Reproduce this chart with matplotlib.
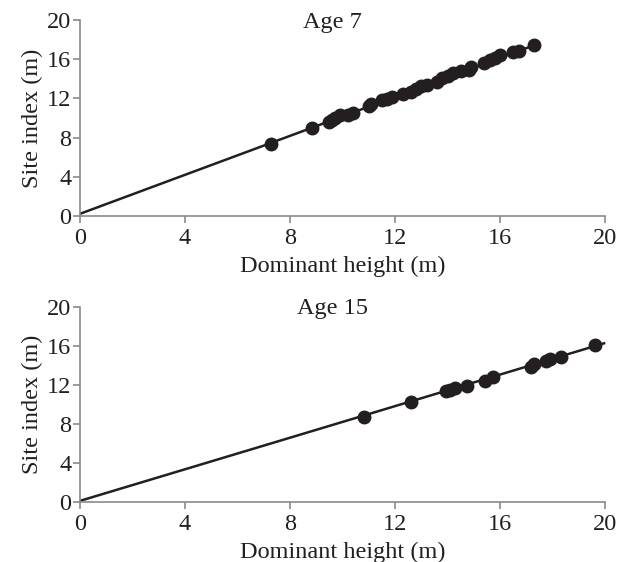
import matplotlib
matplotlib.use("Agg")
import matplotlib.pyplot as plt

# Age 7 data
x7 = [7.27, 8.83, 9.47, 9.6, 9.7, 9.9, 10.2, 10.4, 11.0, 11.1, 11.5, 11.7, 11.9,
      12.3, 12.6, 12.8, 13.0, 13.2, 13.6, 13.8, 14.0, 14.2, 14.5, 14.8, 14.9,
      15.4, 15.6, 15.8, 16.0, 16.5, 16.7, 17.3]
y7 = [7.35, 9.0, 9.6, 9.8, 10.0, 10.3, 10.3, 10.5, 11.2, 11.4, 11.8, 11.9, 12.1,
      12.5, 12.7, 13.0, 13.3, 13.4, 13.7, 14.1, 14.3, 14.6, 14.8, 14.9, 15.2,
      15.6, 15.9, 16.1, 16.4, 16.8, 16.9, 17.5]
line7_x = [0, 17.4]
line7_y = [0.2, 17.55]

# Age 15 data
x15 = [10.83, 12.62, 13.94, 14.1, 14.27, 14.74, 15.41, 15.73, 17.17, 17.3,
       17.76, 17.88, 18.3, 19.62]
y15 = [8.75, 10.2, 11.4, 11.45, 11.65, 11.9, 12.4, 12.85, 13.8, 14.1,
       14.4, 14.65, 14.85, 16.05]
line15_x = [0, 20]
line15_y = [0.1, 16.3]

ticks = [0, 4, 8, 12, 16, 20]

plt.rcParams['font.family'] = ['Liberation Serif', 'DejaVu Serif']
fig = plt.figure(figsize=(6.24, 5.62), dpi=100)
ax1 = fig.add_axes([0.128, 0.616, 0.842, 0.348])
ax2 = fig.add_axes([0.128, 0.107, 0.842, 0.347])

ink = '#231f20'
spine_c = '#8a8a8a'
fs = 17.5

for ax, xs, ys, lx, ly, title in [(ax1, x7, y7, line7_x, line7_y, 'Age 7'),
                                   (ax2, x15, y15, line15_x, line15_y, 'Age 15')]:
    ax.plot(lx, ly, color=ink, lw=1.8, solid_capstyle='butt', zorder=2, clip_on=False)
    ax.plot(xs, ys, 'o', color=ink, ms=9, zorder=3, clip_on=False)
    ax.set_xlim(0, 20)
    ax.set_ylim(0, 20)
    ax.set_xticks(ticks)
    ax.set_yticks(ticks)
    for s in ['top', 'right']:
        ax.spines[s].set_visible(False)
    for s in ['left', 'bottom']:
        ax.spines[s].set_color(spine_c)
        ax.spines[s].set_linewidth(1.2)
    ax.tick_params(axis='x', direction='out', length=5, width=1.2, color=spine_c,
                   labelsize=fs, labelcolor=ink, pad=4)
    ax.tick_params(axis='y', direction='out', length=5, width=1.2, color=spine_c,
                   labelsize=fs, labelcolor=ink, pad=1)
    ax.set_xlabel('Dominant height (m)', fontsize=fs, color=ink, labelpad=4.5)
    ax.set_ylabel('Site index (m)', fontsize=fs, color=ink, labelpad=3)
    ax.text(9.6, 19.8, title, ha='center', va='center', fontsize=fs, color=ink)

fig.savefig('out.png', dpi=100)
